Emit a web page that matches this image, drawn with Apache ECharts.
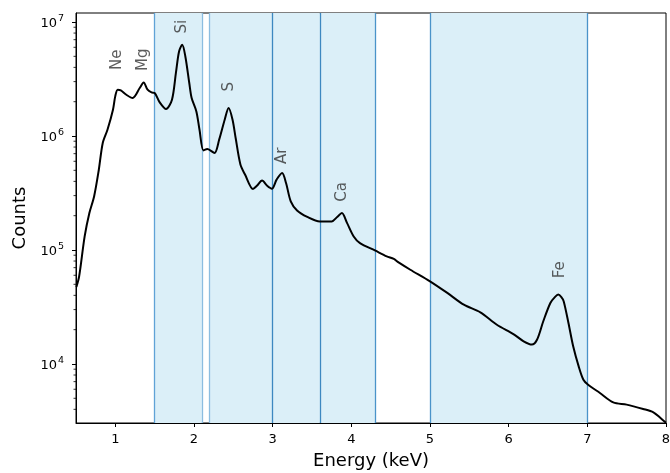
<!DOCTYPE html>
<html>
<head>
<meta charset="utf-8">
<script src="https://cdn.jsdelivr.net/npm/echarts@6/dist/echarts.min.js"></script>
<style>html,body{margin:0;padding:0;background:#fff}#c{width:670px;height:473px}</style>
</head>
<body>
<div id="c"></div>
<script>
const energy = [0.505,0.54,0.61,0.67,0.73,0.79,0.84,0.90,0.97,1.00,1.03,1.07,1.14,1.22,1.31,1.36,1.41,1.46,1.50,1.56,1.645,1.72,1.77,1.81,1.85,1.89,1.94,1.97,2.03,2.07,2.12,2.17,2.26,2.32,2.39,2.44,2.49,2.53,2.59,2.65,2.75,2.80,2.865,2.93,2.99,3.05,3.12,3.17,3.23,3.31,3.44,3.60,3.75,3.82,3.88,3.945,4.03,4.11,4.30,4.45,4.54,4.60,4.75,5.00,5.22,5.43,5.64,5.85,6.06,6.19,6.295,6.36,6.44,6.53,6.59,6.63,6.67,6.70,6.76,6.82,6.89,6.95,7.01,7.16,7.33,7.50,7.71,7.84,7.93,8.0];
const counts = [47300,58600,131500,211000,295000,506000,869000,1135000,1702000,2250000,2547000,2512000,2301000,2153000,2636000,2951000,2547000,2410000,2382000,1995000,1726000,2080000,3573000,5521000,6310000,4989000,2917000,2153000,1644000,1135000,748000,769000,710000,929000,1390000,1762000,1390000,955000,562000,457000,343000,366000,407000,366000,345000,414000,473000,387000,267000,222000,195000,178000,178000,195000,211000,173000,131500,115000,99100,87900,83400,77800,67100,53100,42000,33100,28400,22100,18300,15800,14800,16300,23700,34300,38800,40600,38600,35400,22900,14300,9530,7280,6580,5570,4600,4400,4030,3770,3360,3050];
const bandStart = [1.5, 2.2, 3.0, 3.6, 5.0];
const bandEnd   = [2.1, 3.0, 3.6, 4.3, 7.0];
const edgeLines = [1.5, 2.1, 2.2, 3.0, 3.6, 4.3, 5.0, 7.0];
const elemNames = ['Ne','Mg','Si','S','Ar','Ca','Fe'];
const elemX = [1.02, 1.35, 1.85, 2.44, 3.12, 3.88, 6.65];
const elemY = [4.67e6, 4.67e6, 9.1e6, 2.7e6, 6.7e5, 3.24e5, 6.7e4];
const xTicks = [1,2,3,4,5,6,7,8];
const yTicks = [1e4,1e5,1e6,1e7];

const edgeColors = {1.5:'#5fa2d6',2.1:'#8bbde0',2.2:'#8bbde0',3.0:'#3d88c0',3.6:'#3d88c0',4.3:'#4a93c9',5.0:'#4a93c9',7.0:'#4a93c9'};
const minorTicks = [];
for (let e = 3; e <= 6; e++) for (let m = 2; m <= 9; m++) {
  const v = m * Math.pow(10, e);
  if (v > 3035) minorTicks.push(v);
}
const FONT = 'DejaVu Sans';
const XMIN = 0.5;

const chart = echarts.init(document.getElementById('c'), null, {renderer:'canvas'});
chart.setOption({
  animation: false,
  textStyle: {fontFamily: FONT},
  grid: {left: 76, right: 4, top: 13, bottom: 50, show: true, borderColor: '#000', borderWidth: 1,
         backgroundColor: 'transparent', containLabel: false, outerBoundsMode: 'none'},
  xAxis: {
    type: 'value', min: XMIN, max: 8,
    name: 'Energy (keV)', nameLocation: 'middle', nameGap: 29,
    nameTextStyle: {fontSize: 18, color: '#000', fontFamily: FONT},
    axisLine: {show: true, lineStyle: {color: '#000', width: 1}},
    axisTick: {show: true, length: 4, lineStyle: {color: '#000', width: 1}, customValues: xTicks},
    axisLabel: {show: true, fontSize: 13, color: '#000', margin: 10, fontFamily: FONT, customValues: xTicks},
    splitLine: {show: false}
  },
  yAxis: {
    type: 'log', logBase: 10, min: 3035, max: 1.2e7,
    name: 'Counts', nameLocation: 'middle', nameGap: 46,
    nameTextStyle: {fontSize: 18, color: '#000', fontFamily: FONT},
    axisLine: {show: true, lineStyle: {color: '#000', width: 1}},
    axisTick: {show: true, length: 4, lineStyle: {color: '#000', width: 1}, customValues: yTicks},
    axisLabel: {show: true, color: '#000', margin: 12, fontFamily: FONT, customValues: yTicks,
      formatter: v => '{b|10}{s|' + Math.round(Math.log10(v)) + '}',
      rich: {
        b: {fontSize: 13, fontFamily: FONT, color: '#000', verticalAlign: 'bottom', lineHeight: 16},
        s: {fontSize: 9.5, fontFamily: FONT, color: '#000', verticalAlign: 'top', lineHeight: 16, padding: [0, 0, 0, 1]}
      }},
    splitLine: {show: false}
  },
  series: [{
    type: 'line',
    data: energy.map((e, i) => [e, counts[i]]),
    showSymbol: false, symbol: 'none',
    smooth: 0.3,
    lineStyle: {color: '#000', width: 2},
    z: 5,
    markArea: {
      silent: true,
      itemStyle: {color: '#dbeff8'},
      data: bandStart.map((s, i) => [{xAxis: s}, {xAxis: bandEnd[i]}])
    },
    markLine: {
      silent: true, symbol: 'none', label: {show: false},
      data: edgeLines.map(x => ({xAxis: x, lineStyle: {color: edgeColors[x], width: 1.3, type: 'solid'}}))
    }
  }, {
    type: 'scatter',
    data: elemNames.map((n, i) => ({name: n, value: [elemX[i], elemY[i]]})),
    symbolSize: 0,
    z: 6,
    label: {show: true, position: 'inside', rotate: 90, formatter: p => p.name, fontSize: 15, color: '#333', fontFamily: FONT}
  }, {
    type: 'custom',
    clip: false,
    silent: true,
    z: 7,
    data: minorTicks.map(v => [XMIN, v]),
    renderItem: (params, api) => {
      const p = api.coord([api.value(0), api.value(1)]);
      return {type: 'line', shape: {x1: p[0] - 2.5, y1: p[1], x2: p[0], y2: p[1]},
              style: {stroke: '#000', lineWidth: 0.8}};
    }
  }]
});
</script>
</body>
</html>
